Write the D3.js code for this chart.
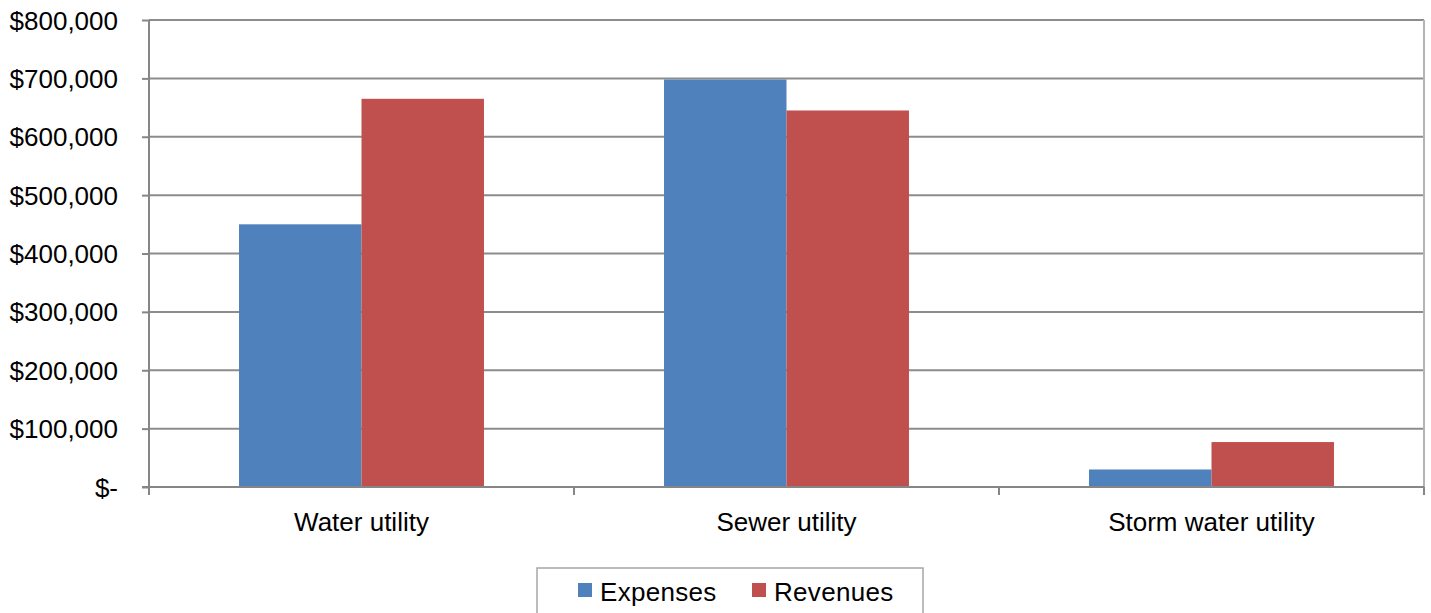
<!DOCTYPE html>
<html>
<head>
<meta charset="utf-8">
<script src="https://cdn.jsdelivr.net/npm/d3@7"></script>
<style>
    body { margin: 0; background: #fff; }
    svg text { font-family: "Liberation Sans", Arial, sans-serif; fill: #000; }
</style>
</head>
<body>
<svg id="chart" width="1431" height="613"></svg>
<script>
// data
var categories = ['Water utility', 'Sewer utility', 'Storm water utility'];
var seriesNames = ['Expenses', 'Revenues'];
var expenses = [450000, 698000, 30000];
var revenues = [665000, 645000, 77000];
var yTicks = [0, 100000, 200000, 300000, 400000, 500000, 600000, 700000, 800000];
var colors = ['#4f81bd', '#c0504d'];

var svg = d3.select('#chart');
var padding = [20, 7, 126, 149]; // top, right, bottom, left
var W = 1431, H = 613;
var plotL = padding[3], plotR = W - padding[1], plotT = padding[0], plotB = H - padding[2];

var xScale = d3.scaleBand().domain(categories).range([plotL, plotR]).paddingInner(0).paddingOuter(0);
var xInner = d3.scaleBand().domain(seriesNames).range([0, xScale.bandwidth()]).paddingOuter(0.735).paddingInner(0);
var yScale = d3.scaleLinear().domain([0, 800000]).range([plotB, plotT]);

var fmt = function (v) {
    if (v === 0) return '$-';
    return '$' + d3.format(',')(v);
};

// gridlines
svg.append('g').attr('class', 'grid')
    .selectAll('line').data(yTicks.filter(function (d) { return d > 0; }))
    .enter().append('line')
    .attr('x1', plotL).attr('x2', plotR)
    .attr('y1', function (d) { return yScale(d); })
    .attr('y2', function (d) { return yScale(d); })
    .attr('stroke', '#8c8c8c').attr('stroke-width', 2);

// right border of plot area
svg.append('line')
    .attr('x1', plotR).attr('x2', plotR).attr('y1', plotT).attr('y2', plotB)
    .attr('stroke', '#b4b4b4').attr('stroke-width', 2);

// bars
var rows = categories.map(function (c, i) {
    return { cat: c, values: [expenses[i], revenues[i]] };
});
var groups = svg.append('g').attr('class', 'bars')
    .selectAll('g').data(rows).enter().append('g')
    .attr('transform', function (d) { return 'translate(' + xScale(d.cat) + ',0)'; });
groups.selectAll('rect').data(function (d) {
    return d.values.map(function (v, j) { return { name: seriesNames[j], value: v, idx: j }; });
}).enter().append('rect')
    .attr('x', function (d) { return xInner(d.name); })
    .attr('width', xInner.bandwidth())
    .attr('y', function (d) { return yScale(d.value); })
    .attr('height', function (d) { return plotB - yScale(d.value); })
    .attr('fill', function (d) { return colors[d.idx]; });

// y axis
var yAxis = d3.axisLeft(yScale).tickValues(yTicks).tickFormat(fmt).tickSize(7).tickPadding(24);
var yG = svg.append('g').attr('transform', 'translate(' + plotL + ',0)').call(yAxis);
yG.select('.domain').attr('stroke', '#868686').attr('stroke-width', 2).attr('d', 'M0,' + plotT + 'V' + (plotB + 1));
yG.selectAll('.tick line').attr('stroke', '#868686').attr('stroke-width', 2);
yG.selectAll('.tick text').style('font-size', '26px').attr('font-family', null).attr('dy', '0.35em');

// x axis
var xG = svg.append('g').attr('transform', 'translate(0,' + plotB + ')');
xG.append('line').attr('x1', plotL - 7).attr('x2', plotR).attr('y1', 0).attr('y2', 0)
    .attr('stroke', '#868686').attr('stroke-width', 2);
var bounds = categories.map(function (c) { return xScale(c); }).concat([plotR]);
xG.selectAll('line.tk').data(bounds).enter().append('line').attr('class', 'tk')
    .attr('x1', function (d) { return d; }).attr('x2', function (d) { return d; })
    .attr('y1', 0).attr('y2', 8)
    .attr('stroke', '#868686').attr('stroke-width', 2);
xG.selectAll('text').data(categories).enter().append('text')
    .attr('x', function (d) { return xScale(d) + xScale.bandwidth() / 2; })
    .attr('y', 44)
    .attr('text-anchor', 'middle')
    .style('font-size', '26px')
    .text(function (d) { return d; });

// legend
var lg = svg.append('g').attr('class', 'legend');
lg.append('rect').attr('x', 537).attr('y', 568).attr('width', 386).attr('height', 60)
    .attr('fill', '#fff').attr('stroke', '#a6a6a6').attr('stroke-width', 1.5);
var legendX = [578, 752];
seriesNames.forEach(function (n, i) {
    lg.append('rect').attr('x', legendX[i]).attr('y', 583).attr('width', 14).attr('height', 14)
        .attr('fill', colors[i]);
    lg.append('text').attr('x', legendX[i] + 22).attr('y', 601)
        .style('font-size', '26px').style('letter-spacing', '0.3px').text(n);
});
</script>
</body>
</html>
